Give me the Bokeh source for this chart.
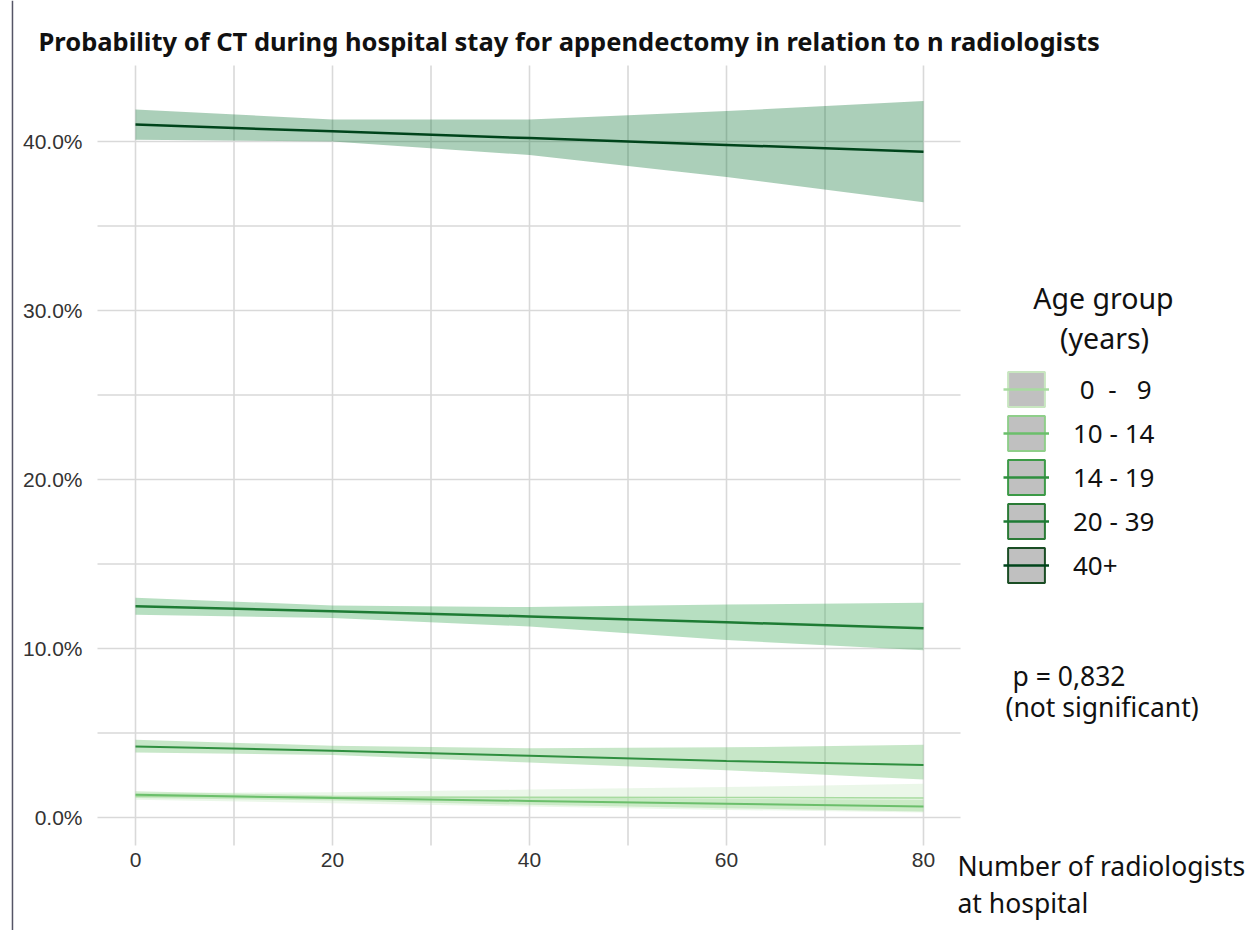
from bokeh.plotting import figure
from bokeh.models import (Range1d, FixedTicker, NumeralTickFormatter, Label, Legend,
                          LegendItem, ColumnDataSource, Span)
from bokeh.embed import file_html
from bokeh.resources import INLINE

# ---------------- data ----------------
x_pts = [0, 20, 40, 60, 80]
groups = ["0 - 9", "10 - 14", "14 - 19", "20 - 39", "40+"]

fit_0_9 = [0.0125, 0.0122, 0.0120, 0.0118, 0.0116]
lo_0_9 = [0.0105, 0.0085, 0.0065, 0.0045, 0.0030]
hi_0_9 = [0.0145, 0.0150, 0.0165, 0.0180, 0.0200]

fit_10_14 = [0.0135, 0.0115, 0.0098, 0.0082, 0.0065]
lo_10_14 = [0.0115, 0.0100, 0.0075, 0.0055, 0.0035]
hi_10_14 = [0.0155, 0.0130, 0.0120, 0.0110, 0.0105]

fit_14_19 = [0.0420, 0.0395, 0.0365, 0.0335, 0.0310]
lo_14_19 = [0.0385, 0.0370, 0.0325, 0.0280, 0.0225]
hi_14_19 = [0.0460, 0.0425, 0.0410, 0.0415, 0.0430]

fit_20_39 = [0.125, 0.122, 0.119, 0.1155, 0.112]
lo_20_39 = [0.120, 0.118, 0.113, 0.105, 0.099]
hi_20_39 = [0.130, 0.1255, 0.1245, 0.126, 0.127]

fit_40 = [0.410, 0.406, 0.402, 0.398, 0.394]
lo_40 = [0.401, 0.400, 0.392, 0.379, 0.364]
hi_40 = [0.419, 0.413, 0.413, 0.418, 0.424]

x_ticks = [0, 20, 40, 60, 80]
x_minor = [10, 30, 50, 70]
y_ticks = [0.0, 0.1, 0.2, 0.3, 0.4]
y_minor = [0.05, 0.15, 0.25, 0.35]

# panel (grid) extent in data units
x_lo, x_hi = -3.858, 83.76
y_lo, y_hi = -0.016568, 0.44497

# ---------------- styles ----------------
band_colors = ["#c7e9c0", "#a1d99b", "#74c476", "#41ab5d", "#006d2c"]
band_alphas = [0.35, 0.45, 0.40, 0.38, 0.33]
line_colors = ["#a8dba0", "#6bbf6b", "#2f8f3f", "#1e7b34", "#00441b"]
line_widths = [1.5, 2.0, 2.0, 2.5, 2.5]
legend_borders = ["#c8e6c0", "#8fce8a", "#3c9a47", "#2a7a36", "#1a4d24"]

series = [
    (fit_0_9, lo_0_9, hi_0_9),
    (fit_10_14, lo_10_14, hi_10_14),
    (fit_14_19, lo_14_19, hi_14_19),
    (fit_20_39, lo_20_39, hi_20_39),
    (fit_40, lo_40, hi_40),
]

p = figure(width=1257, height=930, output_backend="svg", toolbar_location=None,
           x_range=Range1d(-13.706, 113.909), y_range=Range1d(-0.066864, 0.483432),
           min_border=0)
p.outline_line_color = None
p.background_fill_color = "white"
p.border_fill_color = "white"
p.xgrid.visible = False
p.ygrid.visible = False

# grid lines limited to the panel
vx = x_ticks + x_minor
p.segment(x0=vx, y0=[y_lo] * len(vx), x1=vx, y1=[y_hi] * len(vx),
          line_color="#d9d9d9", line_width=1.6)
hy = y_ticks + y_minor
p.segment(x0=[x_lo] * len(hy), y0=hy, x1=[x_hi] * len(hy), y1=hy,
          line_color="#d9d9d9", line_width=1.6)

p.xaxis.ticker = FixedTicker(ticks=x_ticks, minor_ticks=x_minor)
p.yaxis.ticker = FixedTicker(ticks=y_ticks, minor_ticks=y_minor)
p.yaxis.formatter = NumeralTickFormatter(format="0.0%")
p.xaxis.fixed_location = y_lo
p.yaxis.fixed_location = x_lo
for ax in (p.xaxis, p.yaxis):
    ax.axis_line_color = None
    ax.major_tick_line_color = None
    ax.minor_tick_line_color = None
    ax.major_tick_out = 0
    ax.major_tick_in = 0
    ax.minor_tick_out = 0
    ax.major_label_text_font = "Liberation Sans"
    ax.major_label_text_font_size = "21px"
    ax.major_label_text_color = "#333333"
p.yaxis.major_label_standoff = 15
p.xaxis.major_label_standoff = 8

# bands then lines
for (fit, lo, hi), bc, ba in zip(series, band_colors, band_alphas):
    src = ColumnDataSource(dict(x=x_pts, lo=lo, hi=hi))
    p.varea(x="x", y1="lo", y2="hi", source=src, fill_color=bc, fill_alpha=ba)
for (fit, lo, hi), lc, lw in zip(series, line_colors, line_widths):
    p.line(x_pts, fit, line_color=lc, line_width=lw)

# legend (renderers placed outside the visible range)
items = []
for name, bcol, lc in zip(groups, legend_borders, line_colors):
    q = p.quad(left=[500], right=[501], top=[5], bottom=[4], fill_color="#c0c0c0",
               line_color=bcol, line_width=2)
    l = p.line([500, 501], [5, 5], line_color=lc, line_width=2.5)
    label = name
    if name == "0 - 9":
        label = "\u00a00\u00a0\u00a0-\u00a0\u00a0\u00a09"
    items.append(LegendItem(label=label, renderers=[q, l]))

legend = Legend(items=items, location=(1003, 343), glyph_width=46, glyph_height=44,
                spacing=0, padding=0, margin=0, label_standoff=24,
                label_text_font="Noto Sans", label_text_font_size="26px",
                label_text_color="#111111", border_line_color=None,
                background_fill_alpha=0, label_height=44)
p.add_layout(legend, "center")

# texts
def lab(x, y, text, size, bold=False, align="left", font="Noto Sans"):
    p.add_layout(Label(x=x, y=y, text=text, text_font=font,
                       text_font_size=size, text_align=align,
                       text_baseline="middle", text_color="#111111",
                       text_font_style="bold" if bold else "normal"))

lab(-9.85, 0.45976, "Probability of CT during hospital stay for appendectomy in relation to n radiologists",
    "25.5px", bold=True)
lab(98.27, 0.30769, "Age group", "28.5px", align="center")
lab(98.38, 0.28402, "(years)", "28.5px", align="center")
lab(89.04, 0.08402, "p = 0,832", "26.5px")
lab(88.32, 0.06509, "(not significant)", "26.5px")
lab(83.45, -0.02899, "Number of radiologists", "26.5px")
lab(83.45, -0.05030, "at hospital", "26.5px")

p.add_layout(Span(location=-12.49, dimension="height", line_color="#555566", line_width=1.5))

open("out.html", "w").write(file_html(p, INLINE))
